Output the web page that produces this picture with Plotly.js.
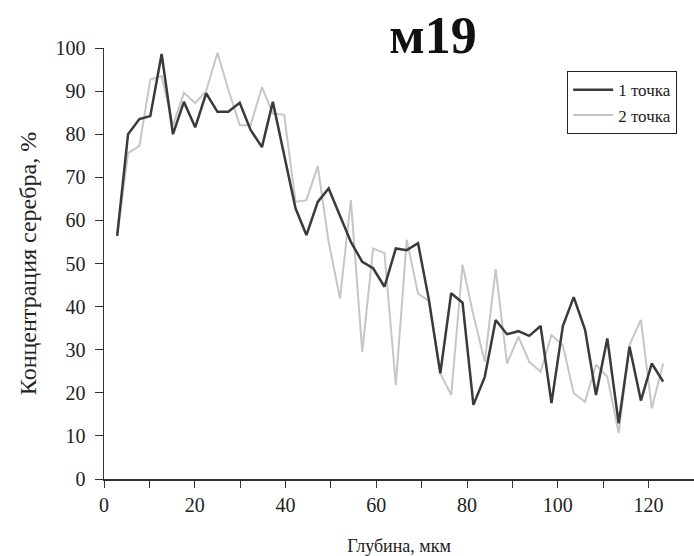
<!DOCTYPE html>
<html>
<head>
<meta charset="utf-8">
<script src="https://cdn.plot.ly/plotly-3.0.1.min.js"></script>
<style>html,body{margin:0;padding:0;background:#fff;}#chart{width:694px;height:556px;}</style>
</head>
<body>
<div id="chart"></div>
<script>
// depth, µm
const depth = [2.9, 5.3, 7.8, 10.2, 12.7, 15.2, 17.6, 20.1, 22.5, 25.0,
  27.4, 29.9, 32.3, 34.8, 37.2, 39.7, 42.2, 44.6, 47.1, 49.5,
  52.0, 54.4, 56.9, 59.3, 61.8, 64.3, 66.7, 69.2, 71.6, 74.1,
  76.5, 79.0, 81.4, 83.9, 86.3, 88.8, 91.3, 93.7, 96.2, 98.6,
  101.1, 103.5, 106.0, 108.4, 110.9, 113.4, 115.8, 118.3, 120.7, 123.2];

// silver concentration, %, point 1
const point1 = [56.4, 80.0, 83.5, 84.2, 98.6, 80.0, 87.5, 81.6, 89.5, 85.2,
  85.2, 87.3, 81.0, 77.0, 87.5, 75.0, 62.8, 56.6, 64.3, 67.4,
  61.0, 55.0, 50.4, 48.9, 44.6, 53.5, 53.1, 54.7, 41.5, 24.5,
  43.1, 40.9, 17.2, 23.7, 36.9, 33.6, 34.3, 33.2, 35.5, 17.6,
  35.5, 42.2, 34.6, 19.5, 32.6, 12.9, 30.7, 18.2, 26.8, 22.6];

// silver concentration, %, point 2
const point2 = [56.4, 75.6, 77.3, 92.7, 93.5, 82.0, 89.6, 87.2, 90.0, 98.9,
  90.3, 82.1, 82.1, 90.9, 84.8, 84.5, 64.3, 64.7, 72.6, 55.0,
  41.9, 64.7, 29.5, 53.5, 52.4, 21.8, 55.5, 43.0, 41.3, 24.5,
  19.5, 49.7, 38.0, 27.2, 48.7, 26.8, 33.0, 27.2, 24.9, 33.4,
  31.0, 19.9, 17.9, 26.5, 23.7, 10.7, 31.1, 36.9, 16.4, 26.8];

const seriesNames = ['1 точка', '2 точка'];
const chartTitle = 'м19';
const xTitle = 'Глубина, мкм';
const yTitle = 'Концентрация серебра, %';

const serif = 'Liberation Serif, Times New Roman, serif';

const traces = [
  {x: depth, y: point2, name: seriesNames[1], mode: 'lines', type: 'scatter',
   line: {color: '#c6c6c6', width: 2}},
  {x: depth, y: point1, name: seriesNames[0], mode: 'lines', type: 'scatter',
   line: {color: '#3a3a3a', width: 2.5}}
];

const layout = {
  width: 694, height: 556,
  margin: {l: 104, r: 0, t: 48, b: 77},
  paper_bgcolor: '#fff', plot_bgcolor: '#fff',
  font: {family: serif, color: '#222', size: 20},
  title: {text: '<b>' + chartTitle + '</b>', x: 0.624, xanchor: 'center', y: 0.937, yanchor: 'middle',
          font: {family: serif, size: 52, color: '#111'}},
  showlegend: true,
  legend: {x: 0.785, y: 0.946, xanchor: 'left', yanchor: 'top', traceorder: 'reversed',
           bordercolor: '#222', borderwidth: 1, bgcolor: '#fff', itemwidth: 40,
           font: {family: serif, size: 17, color: '#222'}, tracegroupgap: 0},
  xaxis: {range: [0, 130], tickvals: [0, 20, 40, 60, 80, 100, 120], ticks: 'outside', ticklen: 7,
          tickcolor: '#333', showline: true, linecolor: '#333', linewidth: 1.5,
          showgrid: false, zeroline: false,
          minor: {tickvals: [10, 30, 50, 70, 90, 110, 130], ticks: 'outside', ticklen: 7, tickcolor: '#333'},
          tickfont: {family: serif, size: 20, color: '#222'},
          title: {text: xTitle, font: {family: serif, size: 18, color: '#222'}, standoff: 30}},
  yaxis: {range: [0, 100], dtick: 10, ticks: 'outside', ticklen: 8, tickcolor: '#333',
          showline: true, linecolor: '#333', linewidth: 1.5, showgrid: false, zeroline: false,
          ticklabelstandoff: 5,
          tickfont: {family: serif, size: 20, color: '#222'},
          title: {text: yTitle, font: {family: serif, size: 24, color: '#222'}, standoff: 12}}
};

Plotly.newPlot('chart', traces, layout, {displayModeBar: false, staticPlot: true});
</script>
</body>
</html>
